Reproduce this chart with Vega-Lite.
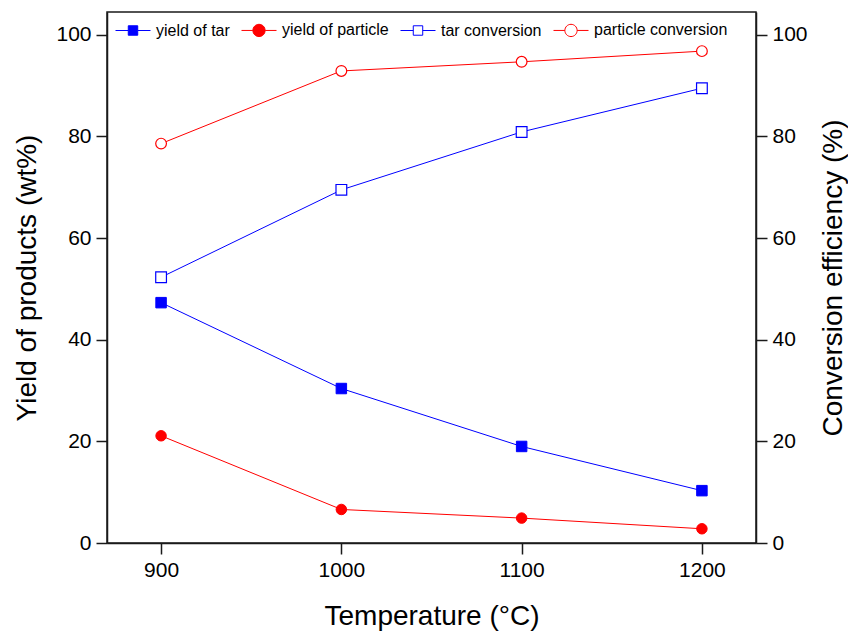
{
  "$schema": "https://vega.github.io/schema/vega-lite/v6.json",
  "width": 649,
  "height": 531,
  "autosize": {"type": "none"},
  "padding": {"left": 107, "top": 12, "right": 92, "bottom": 89},
  "background": "white",
  "config": {
    "font": "Liberation Sans",
    "view": {"stroke": "#1a1a1a", "strokeWidth": 1.5},
    "axis": {
      "grid": false,
      "labelFont": "Liberation Sans",
      "labelFontSize": 21,
      "labelColor": "#000000",
      "titleFont": "Liberation Sans",
      "titleFontSize": 28,
      "titleFontWeight": "normal",
      "titleColor": "#000000",
      "domainColor": "#1a1a1a",
      "domainWidth": 1.5,
      "tickColor": "#1a1a1a",
      "tickWidth": 1.5,
      "tickSize": 11,
      "labelPadding": 5
    }
  },
  "data": {
    "values": [
      {"temp": 900, "value": 47.3, "series": "yield of tar", "group": "left"},
      {"temp": 1000, "value": 30.4, "series": "yield of tar", "group": "left"},
      {"temp": 1100, "value": 19.0, "series": "yield of tar", "group": "left"},
      {"temp": 1200, "value": 10.3, "series": "yield of tar", "group": "left"},
      {"temp": 900, "value": 21.1, "series": "yield of particle", "group": "left"},
      {"temp": 1000, "value": 6.6, "series": "yield of particle", "group": "left"},
      {"temp": 1100, "value": 4.9, "series": "yield of particle", "group": "left"},
      {"temp": 1200, "value": 2.8, "series": "yield of particle", "group": "left"},
      {"temp": 900, "value": 52.3, "series": "tar conversion", "group": "right"},
      {"temp": 1000, "value": 69.5, "series": "tar conversion", "group": "right"},
      {"temp": 1100, "value": 80.9, "series": "tar conversion", "group": "right"},
      {"temp": 1200, "value": 89.5, "series": "tar conversion", "group": "right"},
      {"temp": 900, "value": 78.6, "series": "particle conversion", "group": "right"},
      {"temp": 1000, "value": 92.9, "series": "particle conversion", "group": "right"},
      {"temp": 1100, "value": 94.7, "series": "particle conversion", "group": "right"},
      {"temp": 1200, "value": 96.8, "series": "particle conversion", "group": "right"}
    ]
  },
  "encoding": {
    "x": {
      "field": "temp",
      "type": "quantitative",
      "scale": {"domain": [870, 1230], "nice": false, "zero": false},
      "axis": {"values": [900, 1000, 1100, 1200], "format": "d", "title": "Temperature (°C)", "titlePadding": 22, "labelFlush": false}
    }
  },
  "layer": [
    {
      "transform": [{"filter": "datum.group == 'left'"}],
      "encoding": {
        "y": {
          "field": "value",
          "type": "quantitative",
          "scale": {"domain": [0, 104.5], "nice": false},
          "axis": {"orient": "left", "values": [0, 20, 40, 60, 80, 100], "title": "Yield of products (wt%)", "titlePadding": 14}
        }
      },
      "layer": [
        {
          "mark": {"type": "line", "strokeWidth": 1},
          "encoding": {
            "detail": {"field": "series", "type": "nominal"},
            "stroke": {"condition": {"test": "indexof(datum.series, 'tar') >= 0", "value": "#0000ff"}, "value": "#ff0000"}
          }
        },
        {
          "mark": {"type": "point", "filled": true, "opacity": 1, "strokeWidth": 1, "size": 110},
          "encoding": {
            "shape": {"condition": {"test": "indexof(datum.series, 'tar') >= 0", "value": "square"}, "value": "circle"},
            "fill": {"condition": {"test": "indexof(datum.series, 'tar') >= 0", "value": "#0000ff"}, "value": "#ff0000"},
            "stroke": {"condition": {"test": "indexof(datum.series, 'tar') >= 0", "value": "#0000ff"}, "value": "#ff0000"}
          }
        }
      ]
    },
    {
      "transform": [{"filter": "datum.group == 'right'"}],
      "encoding": {
        "y": {
          "field": "value",
          "type": "quantitative",
          "scale": {"domain": [0, 104.5], "nice": false},
          "axis": {"orient": "right", "values": [0, 20, 40, 60, 80, 100], "title": "Conversion efficiency (%)", "titleAngle": -90, "titleBaseline": "top", "titlePadding": 12}
        }
      },
      "layer": [
        {
          "mark": {"type": "line", "strokeWidth": 1},
          "encoding": {
            "detail": {"field": "series", "type": "nominal"},
            "stroke": {"condition": {"test": "indexof(datum.series, 'tar') >= 0", "value": "#0000ff"}, "value": "#ff0000"}
          }
        },
        {
          "mark": {"type": "point", "opacity": 1, "strokeWidth": 1.2, "size": 115, "fill": "#ffffff"},
          "encoding": {
            "shape": {"condition": {"test": "indexof(datum.series, 'tar') >= 0", "value": "square"}, "value": "circle"},
            "stroke": {"condition": {"test": "indexof(datum.series, 'tar') >= 0", "value": "#0000ff"}, "value": "#ff0000"}
          }
        }
      ]
    },
    {
      "transform": [{"filter": "false"}],
      "mark": {"type": "point", "opacity": 1},
      "encoding": {
        "shape": {
          "field": "series",
          "type": "nominal",
          "scale": {
            "domain": ["yield of tar", "yield of particle", "tar conversion", "particle conversion"],
            "range": [
              "M-1,0H-0.27M0.27,0H1M-0.27,-0.27H0.27V0.27H-0.27Z",
              "M-1,0H-0.35M0.35,0H1M-0.35,0A0.35,0.35,0,1,0,0.35,0A0.35,0.35,0,1,0,-0.35,0Z",
              "M-1,0H-0.27M0.27,0H1M-0.27,-0.27H0.27V0.27H-0.27Z",
              "M-1,0H-0.35M0.35,0H1M-0.35,0A0.35,0.35,0,1,0,0.35,0A0.35,0.35,0,1,0,-0.35,0Z"
            ]
          },
          "legend": {"title": null, "orient": "none", "legendX": 8, "legendY": 0, "direction": "horizontal", "symbolSize": 1225, "symbolStrokeWidth": 1, "symbolOpacity": 1, "labelOffset": 5, "columnPadding": 9, "labelFontSize": 16, "labelFont": "Liberation Sans", "labelColor": "#000000", "padding": 0}
        },
        "fill": {
          "field": "series",
          "type": "nominal",
          "scale": {
            "domain": ["yield of tar", "yield of particle", "tar conversion", "particle conversion"],
            "range": ["#0000ff", "#ff0000", "#ffffff", "#ffffff"]
          },
          "legend": {"title": null, "orient": "none", "legendX": 8, "legendY": 0, "direction": "horizontal", "symbolSize": 1225, "symbolStrokeWidth": 1, "symbolOpacity": 1, "labelOffset": 5, "columnPadding": 9, "labelFontSize": 16, "labelFont": "Liberation Sans", "labelColor": "#000000", "padding": 0}
        },
        "stroke": {
          "field": "series",
          "type": "nominal",
          "scale": {
            "domain": ["yield of tar", "yield of particle", "tar conversion", "particle conversion"],
            "range": ["#0000ff", "#ff0000", "#0000ff", "#ff0000"]
          },
          "legend": {"title": null, "orient": "none", "legendX": 8, "legendY": 0, "direction": "horizontal", "symbolSize": 1225, "symbolStrokeWidth": 1, "symbolOpacity": 1, "labelOffset": 5, "columnPadding": 9, "labelFontSize": 16, "labelFont": "Liberation Sans", "labelColor": "#000000", "padding": 0}
        }
      }
    }
  ],
  "resolve": {"scale": {"y": "independent"}}
}
